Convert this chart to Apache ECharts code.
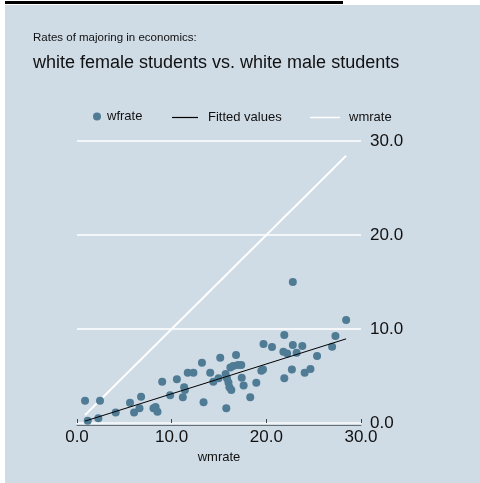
<!DOCTYPE html>
<html>
<head>
<meta charset="utf-8">
<script src="https://cdn.jsdelivr.net/npm/echarts@6/dist/echarts.min.js"></script>
<style>
html,body{margin:0;padding:0;background:#ffffff;}
#wrap{position:relative;width:480px;height:483px;overflow:hidden;}
#bg{position:absolute;left:5px;top:5px;right:0;bottom:0;background:#cfdbe5;}
#bar{position:absolute;left:5px;top:1px;width:338px;height:2.5px;background:#000;}
#chart{position:absolute;left:0;top:0;width:480px;height:483px;}
</style>
</head>
<body>
<div id="wrap"><div id="bg"></div><div id="bar"></div><div id="chart"></div></div>
<script>
// wmrate (x) and wfrate (y) values
const wmrate = [0.85,2.43,1.13,2.26,4.09,5.6,6.03,6.6,6.77,8.08,8.5,8.3,9.0,9.84,10.55,11.18,11.32,11.4,11.7,12.3,13.2,13.37,14.07,14.4,14.95,15.13,15.7,15.84,15.77,16.2,16.0,16.1,16.3,16.5,16.8,17.0,17.35,17.4,17.6,18.3,18.94,19.47,19.65,19.7,20.6,21.9,21.8,21.9,22.2,22.8,22.8,22.7,23.2,23.8,24.05,24.66,25.36,26.95,27.3,28.43];
const wfrate = [2.37,2.37,0.25,0.5,1.13,2.16,1.13,1.56,2.8,1.56,1.2,1.7,4.4,2.95,4.65,2.73,3.8,3.5,5.35,5.35,6.4,2.2,5.35,4.4,4.75,6.95,5.2,4.75,1.56,5.9,4.3,3.8,3.5,6.06,7.23,6.17,6.17,4.82,4.0,2.73,4.29,5.57,5.7,8.4,8.09,9.36,7.59,4.75,7.4,8.3,15.0,5.7,7.48,8.19,5.35,5.74,7.13,8.12,9.26,10.96];
// Fitted values line endpoints
const fitX = [0.85, 28.43];
const fitY = [0.2, 8.95];
const tickLabels = ['0.0','10.0','20.0','30.0'];

const scatterData = wmrate.map((x,i)=>[x, wfrate[i]]);
const fitData = fitX.map((x,i)=>[x, fitY[i]]);
const wmLine = wmrate.slice().sort((a,b)=>a-b).map(x=>[x,x]);
const fmt = v => tickLabels[Math.round(v/10)] || v.toFixed(1);
const FONT = "'Liberation Sans', Arial, Helvetica, sans-serif";

const chart = echarts.init(document.getElementById('chart'), null, {renderer:'canvas'});
chart.setOption({
  backgroundColor: 'transparent',
  animation: false,
  title: [
    {text:'Rates of majoring in economics:', left:33, top:32, padding:0,
     textStyle:{fontFamily:FONT, fontSize:11.5, fontWeight:'normal', color:'#111'}},
    {text:'white female students vs. white male students', left:33, top:54, padding:0,
     textStyle:{fontFamily:FONT, fontSize:18, fontWeight:'normal', color:'#111'}}
  ],
  legend: [
    {data:['wfrate'], left:93, top:110, padding:0, icon:'circle', itemWidth:8, itemHeight:8,
     textStyle:{fontFamily:FONT, fontSize:13, color:'#111', padding:[0,0,0,1]}},
    {data:['Fitted values'], left:172, top:111, padding:0, icon:'rect', itemWidth:26, itemHeight:1.2,
     textStyle:{fontFamily:FONT, fontSize:13, color:'#111', padding:[0,0,0,5]}},
    {data:['wmrate'], left:310, top:111, padding:0, icon:'rect', itemWidth:30, itemHeight:1.5,
     textStyle:{fontFamily:FONT, fontSize:13, color:'#111', padding:[0,0,0,4]}}
  ],
  grid: {left:77, right:119, top:141, bottom:60, containLabel:false},
  xAxis: [{
    type:'value', min:0, max:30, interval:10,
    name:'wmrate', nameLocation:'middle', nameGap:28,
    nameTextStyle:{fontFamily:FONT, fontSize:13, color:'#111'},
    axisLine:{show:true, lineStyle:{color:'#f2f5f8', width:2}},
    axisTick:{show:true, inside:true, length:4, lineStyle:{color:'#444', width:1}},
    axisLabel:{formatter:fmt, fontFamily:FONT, fontSize:17, color:'#111', margin:6},
    splitLine:{show:false}
  },{
    type:'value', min:0, max:30, interval:10, position:'bottom', offset:2,
    axisLine:{show:true, lineStyle:{color:'#6a6f74', width:1}},
    axisTick:{show:false}, axisLabel:{show:false}, splitLine:{show:false}
  }],
  yAxis: {
    type:'value', min:0, max:30, interval:10, position:'right',
    axisLine:{show:false}, axisTick:{show:false},
    axisLabel:{formatter:fmt, fontFamily:FONT, fontSize:17, color:'#111', margin:9},
    splitLine:{show:true, lineStyle:{color:'#f4f7fa', width:2}}
  },
  series: [
    {name:'wfrate', type:'scatter', data:scatterData, symbolSize:8,
     itemStyle:{color:'#4f7b95', opacity:1}, z:3},
    {name:'Fitted values', type:'line', data:fitData, symbol:'none',
     lineStyle:{color:'#000', width:1}, itemStyle:{color:'#000'}, z:4},
    {name:'wmrate', type:'line', data:wmLine, symbol:'none',
     lineStyle:{color:'#ffffff', width:2}, itemStyle:{color:'#ffffff'}, z:2}
  ]
});
</script>
</body>
</html>
